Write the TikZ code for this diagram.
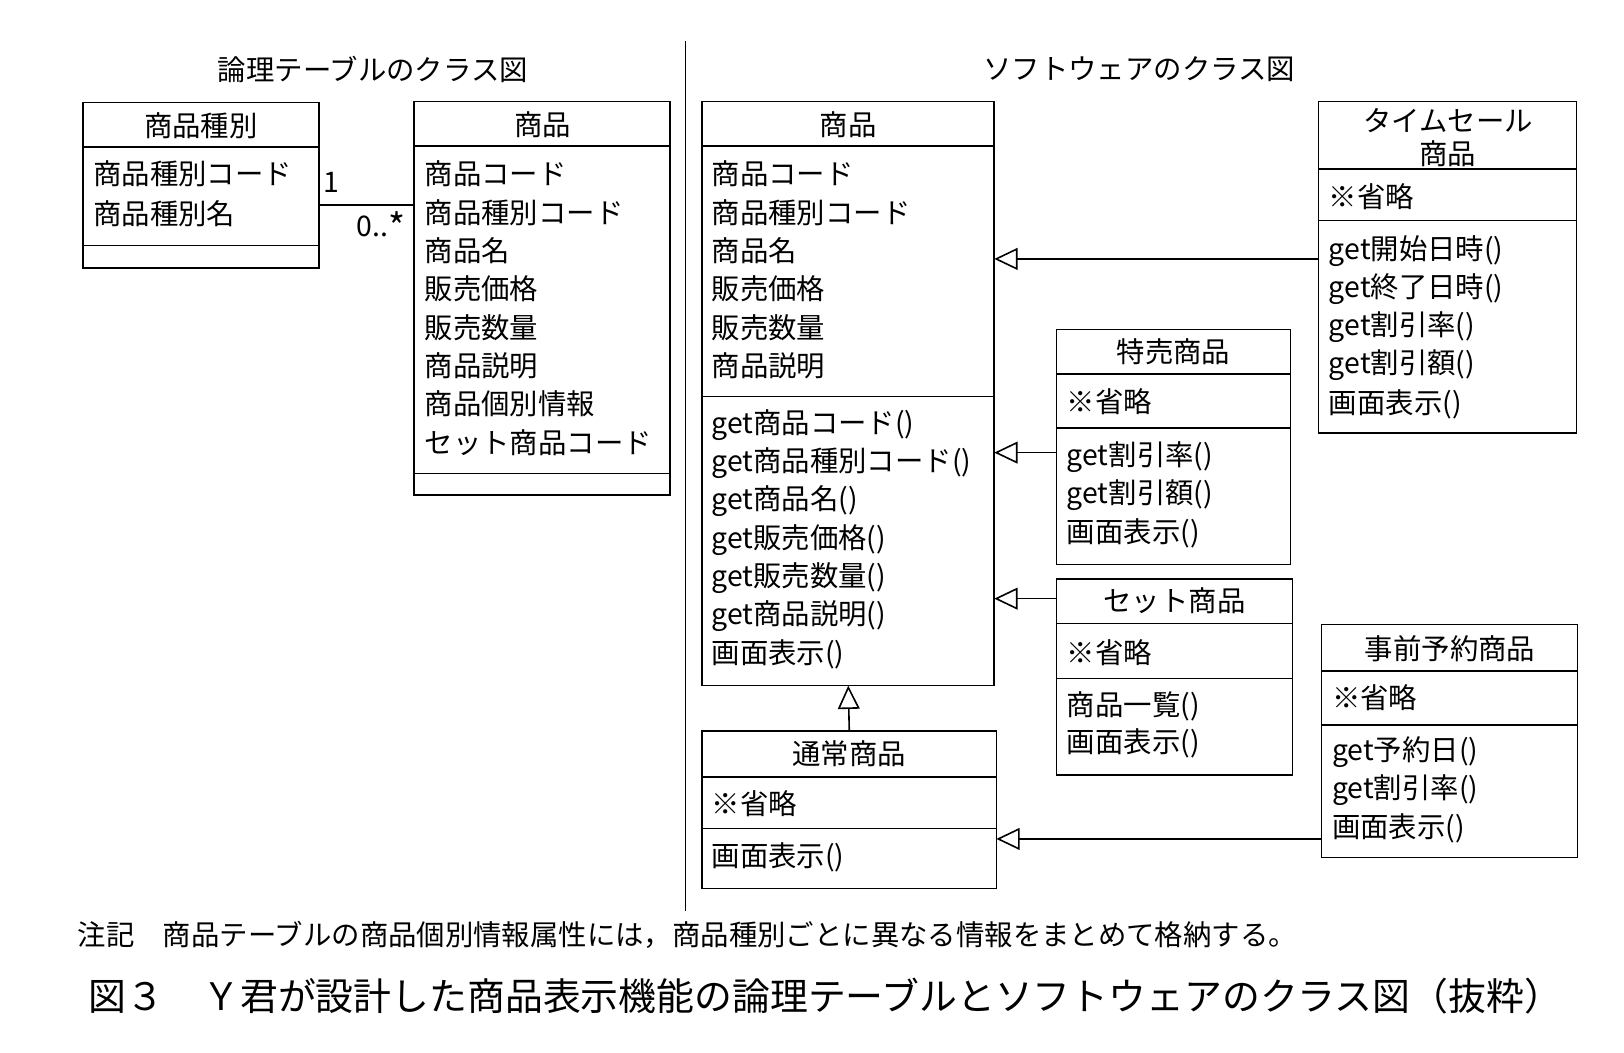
\documentclass[tikz,border=0pt]{standalone}
\usepackage{fontspec}
\setmainfont{Noto Sans CJK JP}
\usetikzlibrary{arrows.meta}
\newcommand\umlbox[5]{%
  \pgfmathsetmacro\bw{(#4-#2)*0.05}\pgfmathsetmacro\bh{(#5-#3)*0.05}%
  \node[box,minimum width=\bw cm,minimum height=\bh cm] (#1) at ({(#2+#4)/2},{(#3+#5)/2}) {};}
\begin{document}
\begin{tikzpicture}[x=0.05cm,y=-0.05cm,
  box/.style={draw,line width=2.2pt,inner sep=0pt,outer sep=0pt},
  div/.style={line width=2.2pt},
  txt/.style={anchor=west,inner sep=0pt,font=\fontsize{39}{50}\selectfont},
  ttl/.style={inner sep=0pt,font=\fontsize{39}{50}\selectfont},
  gen/.style={line width=2.2pt,-{Triangle[open,length=32pt,width=30pt,line width=2.2pt]}}]
\useasboundingbox (0,0) rectangle (1568,1016);
\node[ttl] (t1) at (360,67) {論理テーブルのクラス図};
\node[ttl] (t2) at (1100,67) {ソフトウェアのクラス図};
\coordinate (vt) at (662,40); \coordinate (vb) at (662,880);
\draw[line width=2.2pt] (vt) -- (vb);
% 商品種別
\umlbox{kind}{80}{99}{308}{259}
\draw[div] (80,142) -- (308,142); \draw[div] (80,237) -- (308,237);
\node[ttl] (kh) at (194,121) {商品種別};
\node[txt] (k1) at (90,168) {商品種別コード};
\node[txt] (k2) at (90,206) {商品種別名};
% 商品 (table)
\umlbox{tbl}{400}{98}{647}{478}
\draw[div] (400,141) -- (647,141); \draw[div] (400,457) -- (647,457);
\node[ttl] (th) at (524,120) {商品};
\foreach \t [count=\i] in {商品コード,商品種別コード,商品名,販売価格,販売数量,商品説明,商品個別情報,セット商品コード}
  \node[txt] (ta\i) at (410,{131+37*\i}) {\t};
\coordinate (ay) at (0,198);
\draw[line width=2.2pt] (kind.east |- ay) -- (tbl.west |- ay);
\node[ttl] (m1) at (320,176) {1};
\node[ttl] (m2) at (368,218) {0..\raisebox{-0.15em}{\fontsize{50}{50}\selectfont *}};
% 商品 (software)
\umlbox{sp}{678}{98}{960}{662}
\draw[div] (678,141) -- (960,141); \draw[div] (678,383) -- (960,383);
\node[ttl] (sh) at (819,120) {商品};
\foreach \t [count=\i] in {商品コード,商品種別コード,商品名,販売価格,販売数量,商品説明}
  \node[txt] (sa\i) at (687,{131+37*\i}) {\t};
\foreach \t [count=\i] in {get商品コード(),get商品種別コード(),get商品名(),get販売価格(),get販売数量(),get商品説明(),画面表示()}
  \node[txt] (sm\i) at (687,{373+37*\i}) {\t};
% 通常商品
\umlbox{norm}{678}{706}{962}{858}
\draw[div] (678,750) -- (962,750); \draw[div] (678,800) -- (962,800);
\node[ttl] (nh) at (820,728) {通常商品};
\node[txt] (n1) at (687,776) {※省略};
\node[txt] (n2) at (687,828) {画面表示()};
\draw[gen] (norm.north) -- (sp.south);
% タイムセール商品
\umlbox{ts}{1273}{98}{1522}{418}
\draw[div] (1273,163) -- (1522,163); \draw[div] (1273,213) -- (1522,213);
\node[ttl] (tsh1) at (1398,116) {タイムセール};
\node[ttl] (tsh2) at (1398,148) {商品};
\node[txt] (ts0) at (1283,190) {※省略};
\foreach \t [count=\i] in {get開始日時(),get終了日時(),get割引率(),get割引額(),画面表示()}
  \node[txt] (tsm\i) at (1283,{205+37*\i}) {\t};
\coordinate (y1) at (0,250);
\draw[gen] (ts.west |- y1) -- (sp.east |- y1);
% 特売商品
\umlbox{tok}{1020}{318}{1246}{545}
\draw[div] (1020,361) -- (1246,361); \draw[div] (1020,413) -- (1246,413);
\node[ttl] (tokh) at (1133,340) {特売商品};
\node[txt] (tok0) at (1030,388) {※省略};
\foreach \t [count=\i] in {get割引率(),get割引額(),画面表示()}
  \node[txt] (tokm\i) at (1030,{404+37*\i}) {\t};
\coordinate (y2) at (0,437);
\draw[gen] (tok.west |- y2) -- (sp.east |- y2);
% セット商品
\umlbox{set}{1020}{559}{1248}{748}
\draw[div] (1020,602) -- (1248,602); \draw[div] (1020,655) -- (1248,655);
\node[ttl] (seth) at (1134,580) {セット商品};
\node[txt] (set0) at (1030,630) {※省略};
\node[txt] (set1) at (1030,682) {商品一覧()};
\node[txt] (set2) at (1030,718) {画面表示()};
\coordinate (y3) at (0,578);
\draw[gen] (set.west |- y3) -- (sp.east |- y3);
% 事前予約商品
\umlbox{pre}{1276}{603}{1523}{828}
\draw[div] (1276,648) -- (1523,648); \draw[div] (1276,700) -- (1523,700);
\node[ttl] (preh) at (1400,626) {事前予約商品};
\node[txt] (pre0) at (1286,674) {※省略};
\foreach \t [count=\i] in {get予約日(),get割引率(),画面表示()}
  \node[txt] (prem\i) at (1286,{689+37*\i}) {\t};
\coordinate (y4) at (0,810);
\draw[gen] (pre.west |- y4) -- (norm.east |- y4);
% notes
\node[txt,font=\fontsize{39}{46}\selectfont] (note) at (75,903) {注記　商品テーブルの商品個別情報属性には，商品種別ごとに異なる情報をまとめて格納する。};
\node[ttl,font=\fontsize{52}{60}\selectfont] (cap) at (797,962) {図３　Ｙ君が設計した商品表示機能の論理テーブルとソフトウェアのクラス図（抜粋）};
\end{tikzpicture}
\end{document}
